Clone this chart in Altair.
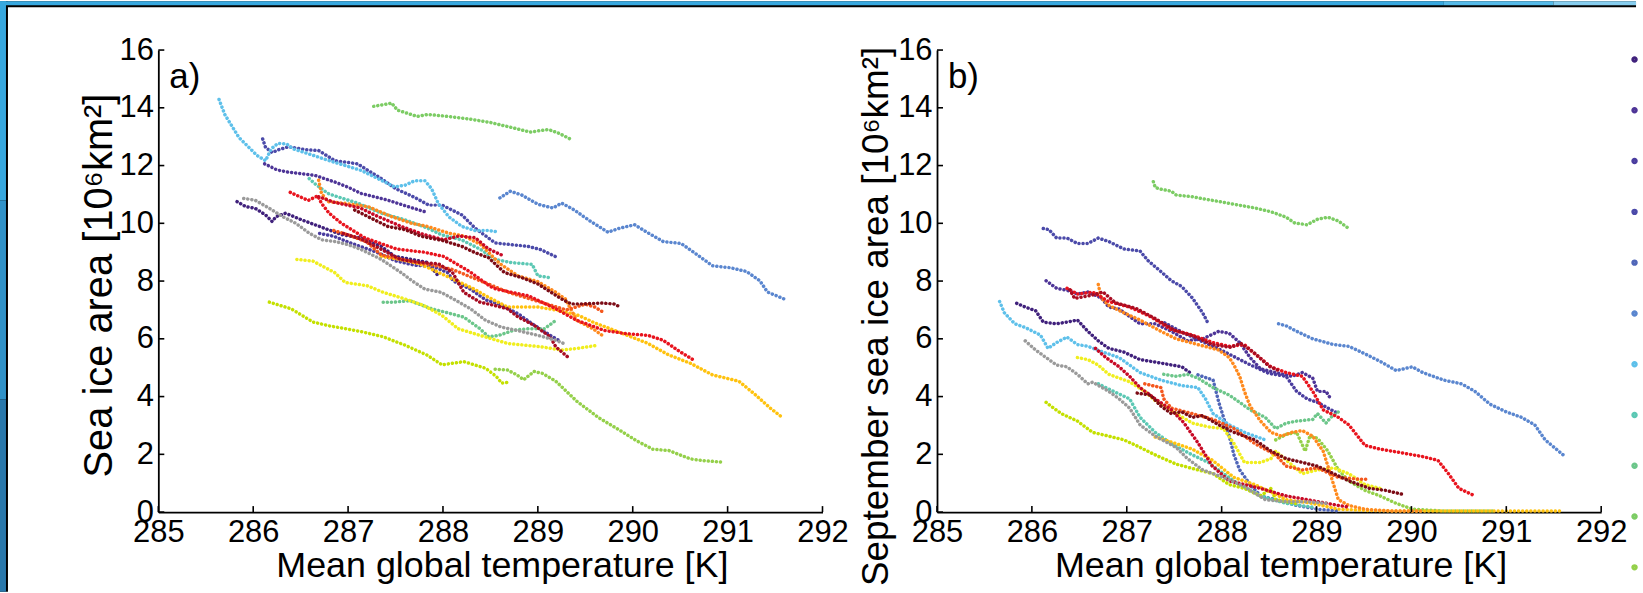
import altair as alt
import pandas as pd

FONT = "Liberation Sans"

# ---------------- categories / colours ----------------
SERIES = ["dkpurple", "purple", "indigo", "violetblue", "slateblue", "blue",
          "lightblue", "teal", "seagreen", "green", "ltgreen", "yellowgreen",
          "yellow", "gold", "orange", "orangered", "red", "crimson",
          "firebrick", "darkred", "gray"]
COLORS = ["#40217c", "#4e3597", "#4a3d9f", "#4b4aa9", "#5066b8", "#5a86cf",
          "#5ec0ea", "#5cc8b4", "#6cc68a", "#7ccc64", "#94d04a", "#c4e000",
          "#f0ee1e", "#ffc20e", "#ff8a1e", "#f4581e", "#e8141e", "#c80a26",
          "#a80c22", "#7c0c16", "#9a9a9a"]
LEGEND_SHOWN = SERIES[:11]

X_TICKS = [285, 286, 287, 288, 289, 290, 291, 292]
Y_TICKS = [0, 2, 4, 6, 8, 10, 12, 14, 16]
X_TITLE = "Mean global temperature [K]"
Y_TITLES = ["Sea ice area [10⁶km²]", "September sea ice area [10⁶km²]"]
PANEL_LABELS = ["a)", "b)"]

# ---------------- panel a: (temperature K, area 10^6 km2) ----------------
A_DKPURPLE = [(285.83,10.75),(285.92,10.58),(286.02,10.52),(286.13,10.29),(286.20,10.06),(286.24,10.23),(286.34,10.35),(286.51,10.12),(286.65,9.95),(286.79,9.78),(286.93,9.61),(287.14,9.49),(287.35,9.20),(287.49,8.86),(287.67,8.75),(287.84,8.64),(287.95,8.18)]
A_PURPLE = [(286.12,12.06),(286.25,11.85),(286.37,11.77),(286.50,11.72),(286.65,11.66),(286.86,11.43),(287.00,11.25),(287.14,11.03),(287.30,10.90),(287.42,10.80),(287.63,10.58),(287.81,10.40)]
A_INDIGO = [(286.70,9.65),(286.85,9.55),(287.00,9.35),(287.30,9.00),(287.50,8.70),(287.70,8.55),(287.90,8.50),(288.05,8.29),(288.11,8.00),(288.29,7.72),(288.45,7.35),(288.60,7.20),(288.80,6.85),(288.95,6.50),(289.13,6.12),(289.22,5.95)]
A_VIOLETBLUE = [(286.10,12.92),(286.13,12.63),(286.20,12.45),(286.27,12.55),(286.37,12.65),(286.55,12.55),(286.69,12.52),(286.86,12.17),(287.10,12.06),(287.21,11.83),(287.35,11.55),(287.50,11.20),(287.70,10.90),(287.85,10.63),(287.99,10.63),(288.20,10.29),(288.34,9.83),(288.55,9.32),(288.72,9.26),(288.90,9.20),(289.03,9.09),(289.21,8.81)]
A_BLUE = [(288.60,10.88),(288.71,11.11),(288.83,10.98),(289.00,10.66),(289.16,10.53),(289.25,10.70),(289.38,10.47),(289.55,10.08),(289.74,9.69),(289.85,9.82),(290.02,9.95),(290.15,9.69),(290.32,9.37),(290.51,9.30),(290.65,8.98),(290.84,8.53),(291.03,8.46),(291.20,8.33),(291.34,8.01),(291.42,7.62),(291.61,7.36)]
A_LIGHTBLUE = [(285.64,14.29),(285.70,13.77),(285.85,12.97),(286.04,12.35),(286.13,12.17),(286.19,12.58),(286.26,12.77),(286.35,12.75),(286.42,12.58),(286.59,12.40),(286.80,12.17),(286.97,12.00),(287.14,11.83),(287.35,11.49),(287.49,11.26),(287.60,11.32),(287.70,11.47),(287.81,11.47),(287.88,11.20),(287.95,10.69),(288.06,10.23),(288.20,9.89),(288.34,9.75),(288.48,9.75),(288.58,9.70)]
A_TEAL = [(286.59,11.55),(286.65,11.37),(286.79,11.03),(286.86,10.95),(287.10,10.70),(287.35,10.35),(287.60,10.12),(287.84,9.83),(287.98,9.61),(288.20,9.42),(288.40,9.09),(288.55,8.75),(288.72,8.64),(288.94,8.58),(289.00,8.18),(289.12,8.12)]
A_SEAGREEN = [(287.37,7.27),(287.48,7.27),(287.65,7.32),(287.88,7.04),(288.05,6.90),(288.22,6.75),(288.39,6.35),(288.48,6.07),(288.59,6.12),(288.75,6.30),(288.90,6.35),(289.07,6.35),(289.19,6.64)]
A_GREEN = [(287.27,14.05),(287.46,14.16),(287.52,13.92),(287.73,13.70),(287.84,13.77),(288.06,13.70),(288.28,13.61),(288.50,13.49),(288.72,13.32),(288.92,13.16),(289.11,13.25),(289.22,13.12),(289.36,12.89)]
A_LTGREEN = [(288.55,4.95),(288.68,4.92),(288.78,4.75),(288.85,4.58),(288.96,4.87),(289.05,4.80),(289.19,4.53),(289.41,3.84),(289.64,3.27),(289.87,2.82),(290.04,2.47),(290.21,2.18),(290.38,2.13),(290.61,1.84),(290.75,1.78),(290.95,1.73)]
A_YELLOWGREEN = [(286.17,7.27),(286.40,7.04),(286.63,6.58),(286.80,6.45),(286.97,6.35),(287.15,6.24),(287.37,6.07),(287.60,5.78),(287.83,5.44),(287.99,5.10),(288.22,5.21),(288.45,4.98),(288.56,4.70),(288.62,4.47),(288.70,4.50)]
A_YELLOW = [(286.46,8.75),(286.63,8.69),(286.86,8.29),(286.97,7.95),(287.20,7.84),(287.37,7.61),(287.60,7.38),(287.80,7.15),(287.99,6.81),(288.16,6.35),(288.39,6.12),(288.68,5.84),(289.02,5.73),(289.25,5.61),(289.42,5.67),(289.64,5.78)]
A_GOLD = [(287.35,8.85),(287.55,8.75),(287.75,8.60),(287.88,8.41),(288.11,8.06),(288.33,7.72),(288.45,7.49),(288.68,7.10),(289.00,7.10),(289.22,6.98),(289.43,6.81),(289.60,6.55),(289.81,6.29),(290.16,5.84),(290.38,5.44),(290.61,5.15),(290.84,4.75),(291.12,4.53),(291.29,4.07),(291.45,3.60),(291.58,3.27)]
A_ORANGE = [(286.69,11.49),(286.72,11.03),(286.79,10.75),(286.97,10.69),(287.21,10.58),(287.46,10.23),(287.67,10.00),(287.84,9.89),(288.06,9.66),(288.23,9.55),(288.40,9.26),(288.60,8.60),(288.79,8.18),(289.00,7.98),(289.19,7.61),(289.29,7.38),(289.41,6.64),(289.58,6.35),(289.70,6.07)]
A_ORANGERED = [(286.85,9.75),(287.00,9.60),(287.20,9.35),(287.35,8.90),(287.50,8.80),(287.70,8.65),(287.90,8.55),(288.10,8.40),(288.40,8.00),(288.70,7.60),(289.00,7.30),(289.30,7.00),(289.50,7.20),(289.60,7.10),(289.70,6.90)]
A_RED = [(286.39,11.07),(286.58,10.79),(286.68,10.95),(286.72,10.69),(286.80,10.35),(286.93,10.00),(287.18,9.49),(287.51,9.11),(287.80,9.00),(288.01,8.85),(288.28,8.33),(288.50,7.81),(288.56,7.72),(288.90,7.49),(289.19,7.04),(289.41,6.64),(289.70,6.29),(289.93,6.18),(290.16,6.12),(290.32,5.95),(290.50,5.55),(290.64,5.27)]
A_CRIMSON = [(286.69,10.92),(286.85,10.73),(287.13,10.53),(287.29,10.27),(287.57,9.88),(287.79,9.62),(288.01,9.43),(288.17,9.56),(288.34,9.50),(288.48,9.11),(288.62,8.90)]
A_FIREBRICK = [(286.95,9.65),(287.14,9.45),(287.35,9.10),(287.55,8.75),(287.75,8.65),(287.95,8.60),(288.10,8.30),(288.22,7.61),(288.39,7.27),(288.55,7.15),(288.68,7.04),(288.79,6.76),(288.96,6.47),(289.13,6.07),(289.19,5.72),(289.33,5.33)]
A_DARKRED = [(287.07,10.46),(287.21,10.23),(287.42,9.89),(287.60,9.78),(287.77,9.55),(288.00,9.40),(288.20,9.20),(288.34,8.98),(288.48,8.81),(288.65,8.29),(288.83,8.12),(289.00,7.90),(289.14,7.61),(289.25,7.38),(289.35,7.21),(289.49,7.21),(289.66,7.24),(289.80,7.21),(289.87,7.10)]
A_GRAY = [(285.90,10.86),(286.02,10.80),(286.17,10.52),(286.31,10.23),(286.45,10.00),(286.59,9.66),(286.72,9.43),(286.86,9.37),(287.00,9.26),(287.14,9.09),(287.35,8.75),(287.56,8.29),(287.70,7.95),(287.81,7.72),(287.98,7.61),(288.11,7.38),(288.29,7.04),(288.45,6.64),(288.61,6.41),(288.78,6.29),(289.00,6.12),(289.19,5.95),(289.27,5.84)]

# ---------------- panel b: (temperature K, September area 10^6 km2) ----------------
B_DKPURPLE = [(285.84,7.23),(285.93,7.10),(286.04,6.97),(286.12,6.58),(286.26,6.52),(286.37,6.58),(286.48,6.65),(286.59,6.26),(286.70,5.93),(286.81,5.67),(286.97,5.54),(287.14,5.28),(287.36,5.16),(287.58,5.03),(287.69,4.77)]
B_PURPLE = [(286.15,8.01),(286.26,7.75),(286.37,7.68),(286.48,7.55),(286.59,7.62),(286.73,7.42),(286.81,7.10),(286.92,7.03),(287.03,6.77),(287.14,6.52),(287.30,6.52),(287.47,6.26),(287.64,5.93),(287.80,6.00),(287.97,6.26),(288.08,6.19),(288.19,5.87),(288.30,5.35),(288.41,4.96),(288.57,4.83),(288.74,4.70),(288.85,4.83),(288.96,4.64),(289.01,4.18),(289.10,4.18),(289.15,3.92)]
B_INDIGO = [(287.40,6.55),(287.60,6.20),(287.80,5.90),(288.00,5.60),(288.30,5.10),(288.50,4.80),(288.68,4.70),(288.79,4.18),(288.90,3.92),(289.01,3.80),(289.12,3.60),(289.23,3.41)]
B_VIOLETBLUE = [(286.12,9.82),(286.18,9.78),(286.26,9.49),(286.37,9.49),(286.48,9.30),(286.59,9.30),(286.70,9.49),(286.81,9.37),(286.97,9.11),(287.14,9.04),(287.22,8.72),(287.36,8.33),(287.47,8.01),(287.58,7.81),(287.69,7.42),(287.80,6.90),(287.86,6.52)]
B_SLATEBLUE = [(287.75,4.75),(287.91,4.57),(287.97,3.80),(288.02,3.28),(288.08,2.63),(288.13,1.98),(288.19,1.46),(288.30,0.95),(288.41,0.56),(288.57,0.43),(288.79,0.23),(289.01,0.10),(289.23,0.04)]
B_BLUE = [(288.60,6.52),(288.68,6.45),(288.79,6.26),(288.96,6.00),(289.18,5.80),(289.34,5.74),(289.51,5.48),(289.67,5.22),(289.84,4.90),(290.01,5.03),(290.12,4.83),(290.34,4.57),(290.53,4.44),(290.67,4.18),(290.83,3.73),(291.00,3.47),(291.16,3.28),(291.30,3.02),(291.41,2.50),(291.60,1.98)]
B_LIGHTBLUE = [(285.66,7.29),(285.71,6.90),(285.82,6.52),(285.93,6.39),(286.09,6.13),(286.17,5.67),(286.26,5.87),(286.37,6.06),(286.48,5.80),(286.59,5.74),(286.75,5.54),(286.92,5.35),(287.14,4.83),(287.36,4.57),(287.58,4.38),(287.75,4.31),(287.83,3.92),(287.91,3.41),(288.08,3.02),(288.24,2.76),(288.41,2.56),(288.46,2.50)]
B_TEAL = [(286.70,4.44),(286.86,4.18),(287.03,3.92),(287.14,3.28),(287.30,2.76),(287.47,2.37),(287.69,1.98),(287.86,1.72),(288.02,1.33),(288.19,0.95),(288.41,0.56),(288.68,0.30),(288.96,0.17)]
B_SEAGREEN = [(287.39,4.77),(287.52,4.70),(287.64,4.77),(287.75,4.64),(287.91,4.31),(288.08,4.05),(288.19,3.80),(288.30,3.54),(288.46,3.28),(288.57,2.89),(288.68,3.08),(288.79,3.15),(288.96,3.21),(289.01,3.41),(289.10,3.08),(289.15,3.28),(289.23,3.47)]
B_GREEN = [(287.28,11.44),(287.30,11.24),(287.36,11.18),(287.47,11.11),(287.52,10.98),(287.69,10.92),(287.80,10.85),(287.91,10.79),(288.13,10.66),(288.35,10.53),(288.52,10.40),(288.68,10.21),(288.77,10.01),(288.90,9.95),(289.01,10.14),(289.12,10.21),(289.23,10.08),(289.34,9.82)]
B_LTGREEN = [(288.57,2.50),(288.68,2.69),(288.79,2.76),(288.88,2.11),(288.93,2.63),(289.01,2.56),(289.12,2.11),(289.23,1.46),(289.34,1.08),(289.51,0.75),(289.67,0.56),(289.84,0.30),(290.01,0.10),(290.34,0.04),(290.89,0.04)]
B_YELLOWGREEN = [(286.15,3.80),(286.20,3.67),(286.31,3.41),(286.48,3.15),(286.64,2.76),(286.81,2.63),(286.97,2.50),(287.14,2.24),(287.30,1.98),(287.52,1.66),(287.75,1.46),(287.91,1.33),(288.08,0.95),(288.24,0.82),(288.41,0.56),(288.52,0.82),(288.57,0.43),(288.79,0.30)]
B_YELLOW = [(286.48,5.35),(286.59,5.28),(286.70,5.09),(286.81,4.77),(287.03,4.51),(287.19,4.18),(287.30,3.86),(287.52,3.41),(287.69,3.08),(287.86,2.95),(288.02,2.89),(288.13,2.37),(288.24,1.72),(288.41,1.72),(288.52,1.85),(288.57,2.11),(288.85,1.33),(289.01,1.46),(289.18,1.53),(289.34,1.33),(289.51,0.95),(289.67,0.82)]
B_GOLD = [(287.30,2.60),(287.52,2.37),(287.69,2.18),(287.90,1.80),(288.13,1.20),(288.35,0.95),(288.52,0.69),(288.68,0.43),(288.96,0.30),(289.23,0.10),(289.51,0.06),(289.78,0.04),(290.34,0.04),(290.89,0.04),(291.60,0.04)]
B_ORANGE = [(286.70,7.88),(286.73,7.42),(286.81,7.16),(286.97,6.90),(287.14,6.65),(287.36,6.26),(287.52,6.00),(287.75,5.80),(287.97,5.61),(288.08,5.35),(288.13,5.09),(288.19,4.70),(288.24,4.18),(288.30,3.67),(288.41,3.15),(288.52,2.76),(288.63,2.63),(288.74,2.76),(288.85,2.82),(288.96,2.63),(289.07,2.11),(289.12,1.59),(289.18,0.95),(289.23,0.43),(289.34,0.23),(289.51,0.10),(289.78,0.04),(290.10,0.04)]
B_ORANGERED = [(287.19,4.44),(287.36,4.31),(287.39,3.92),(287.47,3.60),(287.69,3.41),(287.91,3.21),(288.13,2.89),(288.35,2.37),(288.57,1.98),(288.68,1.59),(288.85,1.46),(289.01,1.53),(289.23,1.20),(289.45,1.14),(289.56,1.14)]
B_RED = [(286.37,7.75),(286.48,7.55),(286.64,7.62),(286.81,7.29),(287.03,7.10),(287.25,6.77),(287.47,6.32),(287.69,6.13),(287.91,5.87),(288.08,5.74),(288.24,5.80),(288.35,5.48),(288.52,5.03),(288.68,4.83),(288.85,4.70),(288.96,4.18),(289.07,3.54),(289.23,3.28),(289.34,3.02),(289.51,2.31),(289.67,2.18),(289.90,2.05),(290.12,1.92),(290.28,1.79),(290.39,1.33),(290.50,0.82),(290.67,0.56)]
B_CRIMSON = [(286.67,5.67),(286.78,5.35),(286.92,5.03),(287.03,4.70),(287.14,4.31),(287.30,3.92),(287.47,3.54),(287.60,3.10),(287.75,2.40),(287.90,1.60),(288.08,1.08),(288.41,0.82),(288.68,0.56),(288.90,0.43),(289.23,0.23),(289.34,0.17)]
B_FIREBRICK = [(286.40,7.70),(286.45,7.40),(286.62,7.50),(286.75,7.62),(286.88,7.25),(287.10,7.05),(287.30,6.70),(287.50,6.30),(287.70,6.10),(287.90,5.80),(288.10,5.70),(288.20,5.85),(288.35,5.50),(288.50,5.05),(288.60,4.90)]
B_DARKRED = [(287.11,4.12),(287.25,4.05),(287.36,3.67),(287.47,3.41),(287.58,3.47),(287.69,3.28),(287.80,3.34),(287.97,3.02),(288.13,2.76),(288.35,2.50),(288.52,2.11),(288.68,1.85),(288.85,1.72),(289.01,1.59),(289.18,1.33),(289.34,1.08),(289.56,0.82),(289.73,0.75),(289.90,0.62)]
B_GRAY = [(285.93,5.93),(286.04,5.61),(286.15,5.35),(286.26,5.09),(286.37,5.03),(286.48,4.77),(286.59,4.44),(286.64,4.50),(286.81,4.18),(286.92,3.92),(287.03,3.60),(287.14,3.02),(287.30,2.63),(287.52,2.24),(287.64,1.85),(287.80,1.46),(288.02,1.20),(288.24,0.88),(288.46,0.43),(288.68,0.36),(288.90,0.36),(289.12,0.30)]

PANEL_A = [("dkpurple", A_DKPURPLE), ("purple", A_PURPLE), ("indigo", A_INDIGO),
           ("violetblue", A_VIOLETBLUE), ("blue", A_BLUE), ("lightblue", A_LIGHTBLUE),
           ("teal", A_TEAL), ("seagreen", A_SEAGREEN), ("green", A_GREEN),
           ("ltgreen", A_LTGREEN), ("yellowgreen", A_YELLOWGREEN), ("yellow", A_YELLOW),
           ("gold", A_GOLD), ("orange", A_ORANGE), ("orangered", A_ORANGERED),
           ("red", A_RED), ("crimson", A_CRIMSON), ("firebrick", A_FIREBRICK),
           ("darkred", A_DARKRED), ("gray", A_GRAY)]
PANEL_B = [("dkpurple", B_DKPURPLE), ("purple", B_PURPLE), ("indigo", B_INDIGO),
           ("violetblue", B_VIOLETBLUE), ("slateblue", B_SLATEBLUE), ("blue", B_BLUE),
           ("lightblue", B_LIGHTBLUE), ("teal", B_TEAL), ("seagreen", B_SEAGREEN),
           ("green", B_GREEN), ("ltgreen", B_LTGREEN), ("yellowgreen", B_YELLOWGREEN),
           ("yellow", B_YELLOW), ("gold", B_GOLD), ("orange", B_ORANGE),
           ("orangered", B_ORANGERED), ("red", B_RED), ("crimson", B_CRIMSON),
           ("firebrick", B_FIREBRICK), ("darkred", B_DARKRED), ("gray", B_GRAY)]


def build(pairs):
    rows = []
    for name, pts in pairs:
        for i, (t, a) in enumerate(pts):
            rows.append({"series": name, "T": t, "A": a, "i": i})
    return pd.DataFrame(rows)


W, H = 667, 464
LEFT, TOP = 159, 49          # page position of panel a's plot area
PAGE_W, PAGE_H = 1643, 593
TICK_LEN = 6

legend = alt.Legend(title=None, orient="none", legendX=1479, legendY=6,
                    values=LEGEND_SHOWN, labelExpr="''", symbolType="circle",
                    symbolSize=12, symbolStrokeWidth=3, symbolDash=[10, 0],
                    rowPadding=34, labelFontSize=6, labelOffset=0, padding=0,
                    offset=0)
color = alt.Color("series:N", scale=alt.Scale(domain=SERIES, range=COLORS),
                  legend=legend)


def panel(pairs, ytitle, ytitle_size, ytitle_x, ytitle_y, label, frame):
    xs = alt.Scale(domain=[285, 292], nice=False, zero=False)
    ys = alt.Scale(domain=[0, 16], nice=False, zero=False)
    xaxis = alt.Axis(values=X_TICKS, format="d", title=X_TITLE, ticks=False,
                     grid=False, labelFlush=False, labelFontSize=31,
                     labelPadding=6, labelColor="black", labelFont=FONT,
                     domainColor="black", domainWidth=1.8,
                     titleFontSize=36, titleFontWeight="normal",
                     titleColor="black", titleFont=FONT, titleX=345,
                     titleY=65, titleBaseline="alphabetic",
                     titleAlign="center")
    yaxis = alt.Axis(values=Y_TICKS, format="d", title=ytitle, ticks=False,
                     grid=False, labelFlush=False, labelFontSize=31,
                     labelPadding=5, labelColor="black", labelFont=FONT,
                     domainColor="black", domainWidth=1.8,
                     titleFontSize=ytitle_size, titleFontWeight="normal",
                     titleColor="black", titleFont=FONT, titleAngle=270,
                     titleX=ytitle_x, titleY=ytitle_y,
                     titleBaseline="alphabetic", titleAlign="center")
    X = alt.X("T:Q", scale=xs, axis=xaxis)
    Y = alt.Y("A:Q", scale=ys, axis=yaxis)

    lines = alt.Chart(build(pairs)).mark_line(
        strokeWidth=3.5, strokeDash=[0.1, 4.0], strokeCap="round"
    ).encode(x=X, y=Y, color=color, detail="series:N", order="i:Q")

    xt = alt.Chart(pd.DataFrame({"T": X_TICKS})).mark_rule(
        color="black", strokeWidth=1.6
    ).encode(x=X, y=alt.value(H), y2=alt.value(H - TICK_LEN))
    yt = alt.Chart(pd.DataFrame({"A": Y_TICKS})).mark_rule(
        color="black", strokeWidth=1.6
    ).encode(y=Y, x=alt.value(0), x2=alt.value(TICK_LEN))

    txt = alt.Chart(pd.DataFrame({"label": [label]})).mark_text(
        fontSize=35, font=FONT, align="left", baseline="alphabetic",
        color="black"
    ).encode(x=alt.value(11), y=alt.value(38), text="label:N")

    layers = []
    if frame:
        one = pd.DataFrame({"k": [0]})

        def band(fill, x0, x1, y0, y1):
            return alt.Chart(one).mark_rect(fill=fill).encode(
                x=alt.value(x0 - LEFT), x2=alt.value(x1 - LEFT),
                y=alt.value(y0 - TOP), y2=alt.value(y1 - TOP))

        layers += [
            band("black", 0, PAGE_W, 0, 6),
            band("black", 0, 8, 0, PAGE_H),
            band("#38a8df", 0, 1450, 0, 4),
            band("#55bae8", 1450, 1560, 0, 4),
            band("#86cdee", 1560, PAGE_W, 0, 4),
            band("#38a8df", 0, 6, 0, 200),
            band("#3192c8", 0, 6, 200, 400),
            band("#2a78ab", 0, 6, 400, PAGE_H),
        ]
    layers += [lines, xt, yt, txt]
    return alt.layer(*layers).properties(width=W, height=H)


pa = panel(PANEL_A, Y_TITLES[0], 40, -47, 236, PANEL_LABELS[0], True)
pb = panel(PANEL_B, Y_TITLES[1], 37, -50, 267, PANEL_LABELS[1], False)

chart = alt.hconcat(pa, pb, spacing=115, bounds="flush").resolve_scale(
    color="shared"
).properties(padding=0).configure(font=FONT).configure_view(
    strokeOpacity=0, stroke="white", strokeWidth=0)

chart.save("out.html", embed_options={"renderer": "svg", "actions": False})
